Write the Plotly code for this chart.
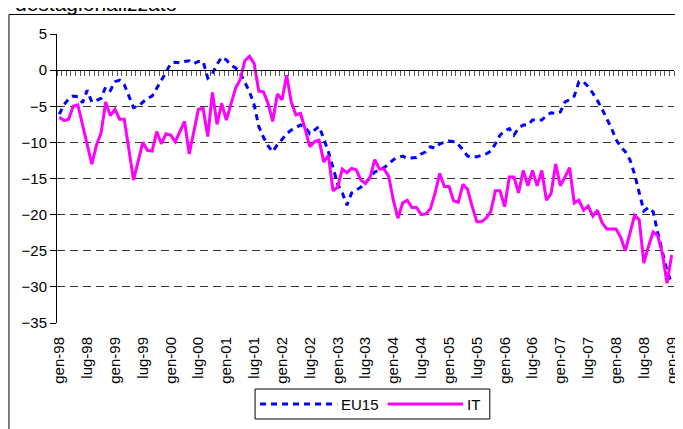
import plotly.graph_objects as go

# monthly, gen-98 .. gen-09
tick_labels = ["gen-98", "lug-98", "gen-99", "lug-99", "gen-00", "lug-00",
               "gen-01", "lug-01", "gen-02", "lug-02", "gen-03", "lug-03",
               "gen-04", "lug-04", "gen-05", "lug-05", "gen-06", "lug-06",
               "gen-07", "lug-07", "gen-08", "lug-08", "gen-09"]

eu15 = [-6.1, -4.8, -4.0, -3.6, -3.7, -4.5, -2.8, -4.4, -4.2, -3.9,
        -2.3, -2.8, -1.6, -1.4, -2.0, -3.6, -5.2, -5.0, -4.5, -3.9,
        -3.6, -2.4, -1.4, -0.3, 0.9, 1.1, 1.0, 1.2, 1.3, 0.9,
        1.2, 1.2, -1.1, -0.5, 0.8, 1.8, 1.4, 0.7, 0.3, -0.4,
        -1.8, -3.0, -4.8, -7.8, -9.3, -10.5, -11.3, -10.3, -9.6, -8.8,
        -8.3, -7.9, -7.6, -7.9, -8.8, -8.3, -7.8, -9.5, -11.3, -13.5,
        -15.8, -17.0, -18.7, -17.0, -16.6, -16.2, -15.6, -14.9, -14.1, -13.8,
        -13.5, -13.0, -12.4, -12.1, -11.9, -12.2, -12.2, -12.1, -11.6, -11.3,
        -10.6, -10.8, -10.2, -10.0, -9.8, -9.9, -10.3, -11.0, -11.9, -12.0,
        -12.0, -11.8, -11.6, -11.2, -10.2, -9.0, -8.4, -8.1, -9.0, -8.0,
        -7.6, -7.6, -6.9, -6.9, -6.9, -6.3, -5.9, -6.0, -5.8, -4.4,
        -4.1, -3.6, -1.6, -1.6, -2.3, -3.2, -4.2, -5.4, -6.6, -8.0,
        -9.6, -10.6, -11.3, -12.4, -14.4, -17.0, -19.5, -19.0, -19.6, -22.5,
        -25.0, -27.8, -29.5]

it = [-6.5, -7.0, -6.8, -5.0, -4.8, -7.5, -10.3, -13.0, -10.4, -8.7,
      -4.4, -6.3, -5.4, -6.8, -6.8, -11.0, -15.2, -12.6, -10.0, -11.1,
      -11.2, -8.5, -10.2, -8.8, -9.0, -9.9, -8.6, -7.1, -11.6, -8.5,
      -5.4, -5.3, -9.2, -3.1, -7.5, -4.6, -6.9, -4.7, -2.5, -1.3,
      1.3, 1.9, 0.9, -2.9, -3.0, -4.6, -7.1, -3.3, -4.1, -0.7,
      -4.4, -6.2, -6.0, -8.2, -10.6, -9.9, -9.7, -12.7, -11.8, -16.7,
      -16.2, -13.7, -14.2, -13.6, -13.8, -15.2, -15.7, -14.8, -12.4, -13.7,
      -13.7, -14.7, -18.0, -20.5, -18.4, -18.0, -19.0, -19.0, -20.0, -19.9,
      -19.2, -17.0, -14.3, -16.1, -16.1, -18.1, -18.3, -15.8, -16.5, -18.9,
      -21.0, -21.0, -20.5, -19.6, -16.7, -16.7, -18.9, -14.8, -14.8, -17.0,
      -13.9, -16.0, -13.9, -16.0, -13.9, -18.0, -17.1, -13.0, -16.0, -14.8,
      -13.5, -18.4, -18.0, -19.4, -18.8, -20.2, -19.4, -21.1, -22.0, -22.0,
      -22.0, -23.1, -25.0, -22.6, -20.1, -20.7, -26.7, -24.4, -22.4, -22.9,
      -25.4, -29.5, -25.6]

months = list(range(len(it)))
FONT = "Liberation Sans, Arial, sans-serif"

# page body has an 8px margin: margins are shifted by 8px so the plot area lands
# on page pixels 57..680 x 34..323
L, T, PW, PH = 57, 34, 623, 289
def px(x): return (x - L) / PW
def py(y): return (T + PH - y) / PH

fig = go.Figure()
fig.add_trace(go.Scatter(x=months, y=eu15, mode="lines", name="EU15",
                         line=dict(color="#0000FF", width=3, dash="6px,5px")))
fig.add_trace(go.Scatter(x=months, y=it, mode="lines", name="IT",
                         line=dict(color="#FF00FF", width=3)))
# invisible trace so the zero-line axis with monthly ticks gets drawn
fig.add_trace(go.Scatter(x=[0], y=[0], xaxis="x2", mode="markers",
                         marker=dict(opacity=0), hoverinfo="skip", showlegend=False))

fig.update_layout(
    width=683, height=429,
    margin=dict(l=49, r=11, t=26, b=114),
    paper_bgcolor="white", plot_bgcolor="white",
    showlegend=False,
    font=dict(family=FONT, size=15, color="black"),
    xaxis=dict(range=[-0.5, len(it) - 0.5], tickvals=months[::6], ticktext=tick_labels,
               tickangle=-90, showgrid=False, zeroline=False, showline=False,
               ticks="", ticklabelstandoff=10),
    xaxis2=dict(range=[-0.5, len(it) - 0.5], overlaying="x", anchor="free", position=0.875,
                side="bottom", tickvals=[m - 0.5 for m in months] + [len(it) - 0.5],
                showticklabels=False, ticks="outside", ticklen=5, tickcolor="#555",
                showline=True, linecolor="black", linewidth=1, showgrid=False, zeroline=False),
    yaxis=dict(range=[-35, 5], dtick=5, showline=True, linecolor="black", linewidth=1,
               ticks="outside", ticklen=6, tickcolor="black", zeroline=False,
               showgrid=True, gridcolor="#333", gridwidth=1, griddash="8px,5px"),
)

# outer chart frame and legend box
fig.add_shape(type="rect", xref="paper", yref="paper", x0=px(8.5), y0=py(460), x1=px(720), y1=py(14.5),
              line=dict(color="black", width=1))
fig.add_shape(type="rect", xref="paper", yref="paper", x0=px(257), y0=py(419), x1=px(494), y1=py(389),
              line=dict(color="black", width=1), fillcolor="white")
fig.add_shape(type="line", xref="paper", yref="paper", x0=px(262), y0=py(404), x1=px(340), y1=py(404),
              line=dict(color="#0000FF", width=3, dash="6px,5px"))
fig.add_shape(type="line", xref="paper", yref="paper", x0=px(391), y0=py(404), x1=px(467), y1=py(404),
              line=dict(color="#FF00FF", width=3))
fig.add_annotation(text="EU15", xref="paper", yref="paper", x=px(342), y=py(404),
                   xanchor="left", yanchor="middle", showarrow=False, font=dict(size=15))
fig.add_annotation(text="IT", xref="paper", yref="paper", x=px(469), y=py(404),
                   xanchor="left", yanchor="middle", showarrow=False, font=dict(size=15))
fig.add_annotation(text="destagionalizzato", xref="paper", yref="paper", x=px(13), y=py(3.5),
                   xanchor="left", yanchor="middle", showarrow=False, font=dict(size=21))

fig.write_html("out.html")
